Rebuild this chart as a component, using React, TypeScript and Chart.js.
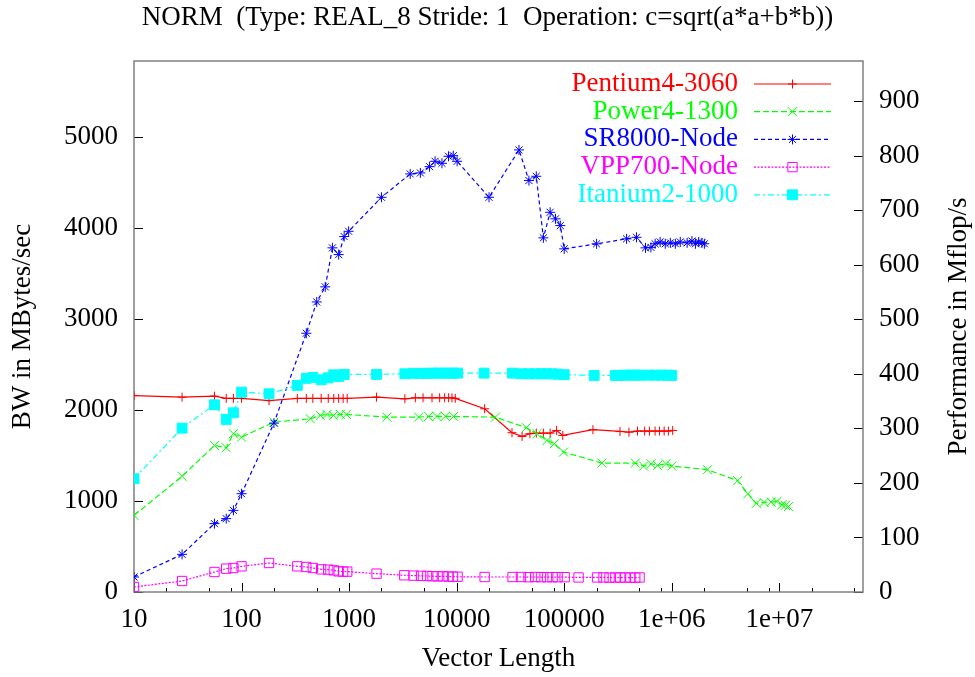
import React, { useEffect, useRef } from 'react';
import { Chart, registerables } from 'chart.js';
import { drawPoint } from 'chart.js/helpers';

Chart.register(...registerables);

const FONT = '"Liberation Serif", "Times New Roman", Times, serif';

const TITLE = 'NORM  (Type: REAL_8 Stride: 1  Operation: c=sqrt(a*a+b*b))';
const X_TITLE = 'Vector Length';
const Y_TITLE = 'BW in MBytes/sec';
const Y2_TITLE = 'Performance in Mflop/s';

const X_TICKS = [10, 100, 1000, 10000, 100000, 1000000, 10000000];
const X_TICK_LABELS = ['10', '100', '1000', '10000', '100000', '1e+06', '1e+07'];
const X_MINOR_MULT = [2, 5, 8];
const X_MIN = 10;
const X_MAX = 6e7;
const Y_TICKS = [0, 1000, 2000, 3000, 4000, 5000];
const Y_MAX = 5840;
const Y2_TICKS = [0, 100, 200, 300, 400, 500, 600, 700, 800, 900];
const Y2_RATIO = 6;

const SERIES_NAMES = ['Pentium4-3060', 'Power4-1300', 'SR8000-Node', 'VPP700-Node', 'Itanium2-1000'];

const pentiumX = [10, 28, 56, 72, 84, 100, 180, 330, 400, 460, 550, 640, 720, 800, 880, 960, 1800,
  3300, 4130, 4870, 5900, 6950, 7730, 8420, 9050, 9710, 18200, 32700, 40600, 48000, 55000, 64000, 74000,
  85000, 97000, 185000, 330000, 400000, 480000, 560000, 620000, 700000, 770000, 850000, 930000, 1020000];
const pentiumY = [2160, 2143, 2154, 2130, 2130, 2130, 2105, 2129, 2129, 2129, 2129, 2129, 2129, 2129, 2129, 2129, 2143,
  2125, 2136, 2136, 2136, 2136, 2136, 2136, 2136, 2130, 2015, 1752, 1711, 1741, 1747, 1747, 1747,
  1777, 1722, 1785, 1766, 1758, 1770, 1770, 1770, 1770, 1770, 1770, 1770, 1777];

const power4X = [10, 28, 56, 72, 84, 100, 200, 436, 540, 623, 718, 828, 942, 2250, 4430, 5480, 6560, 7840, 9370,
  22900, 44500, 55900, 69200, 80800, 98600, 224000, 458000, 547000, 641000, 739000, 884000, 1000000,
  2150000, 4100000, 5100000, 6100000, 7200000, 8400000, 9500000, 10600000, 11400000, 12200000];
const power4Y = [843, 1272, 1612, 1587, 1741, 1703, 1868, 1905, 1942, 1953, 1942, 1953, 1953, 1923, 1923, 1931, 1931, 1931, 1931,
  1923, 1807, 1741, 1667, 1631, 1539, 1418, 1418, 1385, 1411, 1392, 1411, 1385,
  1345, 1225, 1081, 975, 985, 989, 995, 960, 953, 940];

const sr8000X = [10, 28, 56, 72, 84, 100, 200, 400, 500, 600, 700, 800, 900, 990, 2000, 3700, 4600, 5600, 6300, 7300,
  8400, 9300, 10100, 20000, 38000, 47000, 55000, 64000, 74000, 83000, 92000, 100000, 200000, 380000, 470000,
  570000, 640000, 700000, 780000, 870000, 970000, 1080000, 1200000, 1390000, 1540000, 1660000, 1780000, 1910000, 2010000];
const sr8000Y = [165, 414, 752, 807, 898, 1081, 1857, 2846, 3190, 3356, 3785, 3711, 3909, 3967, 4341, 4598, 4609, 4678, 4737, 4715,
  4792, 4799, 4737, 4341, 4862, 4525, 4572, 3895, 4176, 4104, 4030, 3774, 3829, 3884, 3901,
  3785, 3790, 3830, 3850, 3830, 3840, 3830, 3850, 3840, 3860, 3830, 3850, 3840, 3830];

const vpp700X = [10, 28, 56, 72, 84, 100, 180, 330, 400, 460, 550, 640, 720, 800, 880, 960, 1800,
  3260, 3980, 4670, 5300, 5970, 6650, 7460, 8410, 9250, 10200, 18200, 33100, 39600, 46600, 53800, 60800,
  69200, 78000, 86800, 101000, 136000, 202000, 232000, 264000, 299000, 332000, 370000, 412000, 458000, 502000];
const vpp700Y = [55, 121, 220, 257, 264, 282, 319, 282, 275, 264, 249, 246, 238, 227, 224, 224, 202,
  184, 180, 178, 176, 174, 172, 172, 170, 168, 168, 165, 165, 165, 163, 165, 163,
  163, 163, 163, 163, 160, 160, 160, 158, 160, 158, 160, 158, 158, 160];

const itaniumX = [10, 28, 56, 72, 84, 100, 180, 330, 400, 460, 550, 640, 720, 800, 900, 1800,
  3300, 4000, 4700, 5300, 6000, 6700, 7500, 8400, 9300, 10200, 18000, 33000, 40000, 47000, 54000, 61000,
  69000, 78000, 87000, 100000, 190000, 300000, 330000, 370000, 410000, 460000, 500000, 600000, 700000,
  800000, 900000, 1000000];
const itaniumY = [1246, 1802, 2059, 1898, 1971, 2198, 2180, 2272, 2350, 2360, 2334, 2356, 2389, 2371, 2393, 2393,
  2400, 2405, 2405, 2405, 2407, 2407, 2407, 2407, 2407, 2407, 2407, 2407, 2400, 2400, 2400, 2400,
  2400, 2400, 2395, 2390, 2382, 2382, 2382, 2385, 2385, 2385, 2385, 2385, 2385,
  2385, 2385, 2382];

const SERIES_X = [pentiumX, power4X, sr8000X, vpp700X, itaniumX];
const SERIES_Y = [pentiumY, power4Y, sr8000Y, vpp700Y, itaniumY];

const STYLES = [
  { color: '#ff0000', dash: [], pointStyle: 'cross', radius: 4.5, fill: false },
  { color: '#00ff00', dash: [6, 3], pointStyle: 'crossRot', radius: 6.4, fill: false },
  { color: '#0000ff', dash: [4, 3], pointStyle: 'star', radius: 5, fill: false },
  { color: '#ff00ff', dash: [2, 1.5], pointStyle: 'rect', radius: 6.6, fill: false },
  { color: '#00ffff', dash: [6, 3, 2, 3], pointStyle: 'rect', radius: 7, fill: true },
];

const decorPlugin = {
  id: 'decor',
  beforeDatasetsDraw(chart: any) {
    const { ctx, chartArea: a, scales } = chart;
    ctx.save();
    ctx.strokeStyle = '#000';
    ctx.lineWidth = 1;
    ctx.beginPath();
    for (const v of Y_TICKS) {
      const y = Math.round(scales.y.getPixelForValue(v)) + 0.5;
      ctx.moveTo(a.left, y);
      ctx.lineTo(a.left + 9, y);
    }
    for (const v of Y2_TICKS) {
      const y = Math.round(scales.y2.getPixelForValue(v)) + 0.5;
      ctx.moveTo(a.right, y);
      ctx.lineTo(a.right - 9, y);
    }
    for (const v of X_TICKS) {
      const x = Math.round(scales.x.getPixelForValue(v)) + 0.5;
      ctx.moveTo(x, a.bottom);
      ctx.lineTo(x, a.bottom - 9);
      for (const m of X_MINOR_MULT) {
        const mv = v * m;
        if (mv >= X_MAX) continue;
        const mx = Math.round(scales.x.getPixelForValue(mv)) + 0.5;
        ctx.moveTo(mx, a.bottom);
        ctx.lineTo(mx, a.bottom - 4);
      }
    }
    ctx.stroke();
    ctx.strokeStyle = '#808080';
    ctx.lineWidth = 1.5;
    ctx.strokeRect(a.left, a.top, a.right - a.left, a.bottom - a.top);
    ctx.restore();
  },
  afterDatasetsDraw(chart: any) {
    const { ctx, chartArea: a } = chart;
    ctx.save();
    // legend
    const textRight = a.right - 125;
    const lineL = a.right - 109;
    const lineR = a.right - 32;
    const mid = (lineL + lineR) / 2;
    SERIES_NAMES.forEach((name, i) => {
      const st = STYLES[i];
      const y = a.top + 22.5 + i * 27.7;
      ctx.font = `27px ${FONT}`;
      ctx.fillStyle = st.color;
      ctx.textAlign = 'right';
      ctx.textBaseline = 'middle';
      ctx.fillText(name, textRight, y + 0.5);
      ctx.strokeStyle = st.color;
      ctx.lineWidth = 1.2;
      ctx.setLineDash(st.dash);
      ctx.beginPath();
      ctx.moveTo(lineL, y + 0.5);
      ctx.lineTo(lineR, y + 0.5);
      ctx.stroke();
      ctx.setLineDash([]);
      ctx.lineWidth = 1;
      ctx.fillStyle = st.fill ? st.color : 'rgba(0,0,0,0)';
      drawPoint(ctx, { pointStyle: st.pointStyle, radius: st.radius, rotation: 0, borderWidth: 1 } as any, mid, y + 0.5);
    });
    // right axis title
    ctx.fillStyle = '#000';
    ctx.font = `27px ${FONT}`;
    ctx.textAlign = 'center';
    ctx.textBaseline = 'alphabetic';
    ctx.translate(966, (a.top + a.bottom) / 2);
    ctx.rotate(-Math.PI / 2);
    ctx.fillText(Y2_TITLE, 0, 0);
    ctx.restore();
  },
};

export default function App() {
  const ref = useRef<HTMLCanvasElement>(null);
  useEffect(() => {
    const datasets = SERIES_NAMES.map((name, i) => {
      const st = STYLES[i];
      return {
        label: name,
        data: SERIES_X[i].map((x, j) => ({ x, y: SERIES_Y[i][j] })),
        borderColor: st.color,
        backgroundColor: st.color,
        borderWidth: 1.2,
        borderDash: st.dash,
        pointStyle: st.pointStyle,
        pointRadius: st.radius,
        pointBorderColor: st.color,
        pointBackgroundColor: st.fill ? st.color : 'rgba(0,0,0,0)',
        pointBorderWidth: 1,
        tension: 0,
        fill: false,
        yAxisID: 'y',
        order: SERIES_NAMES.length - i,
      };
    });
    const tickFont = { family: FONT, size: 27 };
    const chart = new Chart(ref.current as HTMLCanvasElement, {
      type: 'line',
      data: { datasets: datasets as any },
      plugins: [decorPlugin as any],
      options: {
        responsive: false,
        animation: false,
        events: [],
        layout: { padding: 0 },
        plugins: {
          legend: { display: false },
          tooltip: { enabled: false },
          title: {
            display: true,
            text: TITLE,
            color: '#000',
            font: { family: FONT, size: 27, weight: 'normal' as any, lineHeight: 1.2 },
            padding: { top: 1.3, bottom: 27.3 },
          },
        },
        scales: {
          x: {
            type: 'logarithmic',
            min: X_MIN,
            max: X_MAX,
            position: 'bottom',
            grid: { display: false, drawTicks: false },
            border: { display: false },
            afterBuildTicks: (s: any) => { s.ticks = X_TICKS.map((v) => ({ value: v })); },
            afterFit: (s: any) => { s.height = 85; },
            ticks: {
              autoSkip: false,
              maxRotation: 0,
              minRotation: 0,
              padding: 12,
              color: '#000',
              font: tickFont,
              callback: (_v: any, i: number) => X_TICK_LABELS[i],
            },
            title: { display: true, text: X_TITLE, color: '#000', font: { family: FONT, size: 27, lineHeight: 1.2 }, padding: { top: 0, bottom: 2.3 } },
          },
          y: {
            type: 'linear',
            position: 'left',
            min: 0,
            max: Y_MAX,
            grid: { display: false, drawTicks: false },
            border: { display: false },
            afterBuildTicks: (s: any) => { s.ticks = Y_TICKS.map((v) => ({ value: v })); },
            afterFit: (s: any) => { s.width = 134; },
            ticks: { padding: 16, color: '#000', font: tickFont, callback: (v: any) => String(v) },
            title: { display: true, text: Y_TITLE, color: '#000', font: { family: FONT, size: 27, lineHeight: 1.2 }, padding: { top: 6.3, bottom: 0 } },
          },
          y2: {
            type: 'linear',
            position: 'right',
            min: 0,
            max: Y_MAX / Y2_RATIO,
            grid: { display: false, drawTicks: false },
            border: { display: false },
            afterBuildTicks: (s: any) => { s.ticks = Y2_TICKS.map((v) => ({ value: v })); },
            afterFit: (s: any) => { s.width = 112; },
            ticks: { padding: 16, color: '#000', font: tickFont, callback: (v: any) => String(v) },
          },
        },
      } as any,
    });
    return () => chart.destroy();
  }, []);
  return (
    <div style={{ position: 'fixed', left: 0, top: 0, width: 975, height: 677, background: '#fff' }}>
      <canvas ref={ref} width={975} height={677} style={{ display: 'block' }} />
    </div>
  );
}
